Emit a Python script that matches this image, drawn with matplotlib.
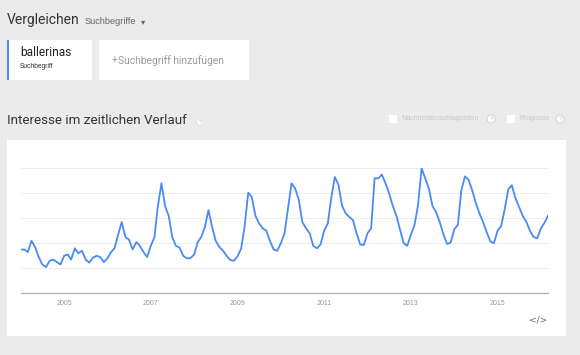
import matplotlib
matplotlib.use("Agg")
import matplotlib.pyplot as plt
from matplotlib.patches import Rectangle, Ellipse
import pandas as pd

# Data: monthly search interest for "ballerinas", 2004-01 .. 2016-03
values_2004 = [35, 35, 33, 42, 37, 29, 23, 21, 26, 27, 25, 23]
values_2005 = [30, 31, 27, 36, 32, 34, 27, 24.5, 28.5, 30, 29, 25]
values_2006 = [28, 33, 36, 47, 57, 45, 43, 35, 41, 38, 33, 29]
values_2007 = [38, 45, 69, 88, 70, 62, 45, 38, 36.5, 30, 28, 28]
values_2008 = [31, 41, 45, 53, 66.6, 53, 42, 37, 34, 30, 26.6, 26]
values_2009 = [29.5, 36, 53, 80.5, 77, 62, 56, 52, 50, 42, 35, 34]
values_2010 = [40, 48, 67, 88, 84, 75, 57, 52, 48, 38, 36, 39]
values_2011 = [50, 56, 76, 93, 87, 70, 64, 61, 58.5, 48, 39, 38.6]
values_2012 = [48, 52, 92, 92, 95, 88, 80, 70, 62, 51, 40, 38]
values_2013 = [47, 55, 70, 100, 92, 84, 70, 65, 57, 47.5, 39.5, 40.5]
values_2014 = [51, 55, 82, 93.5, 91, 82.5, 72.5, 64, 57, 49, 41.5, 40]
values_2015 = [50, 54, 66.6, 83, 86.5, 76, 69, 62, 57, 50, 45, 44]
values_2016 = [52, 56.5, 62]

values = (values_2004 + values_2005 + values_2006 + values_2007 + values_2008
          + values_2009 + values_2010 + values_2011 + values_2012 + values_2013
          + values_2014 + values_2015 + values_2016)
start_month = "2004-01-01"
tick_years = [2005, 2007, 2009, 2011, 2013, 2015]
tick_labels = ["2005", "2007", "2009", "2011", "2013", "2015"]
grid_values = [20, 40, 60, 80, 100]

W, H = 580, 355
BG = "#ebebeb"
BLUE = "#4a8af4"

fig = plt.figure(figsize=(W / 100, H / 100), dpi=100)
fig.patch.set_facecolor(BG)

def fx(x):
    return x / W

def fy(y):
    return 1 - y / H

def rect(x0, y0, x1, y1, color, z=0, ec="none", lw=0):
    fig.patches.append(Rectangle((fx(x0), fy(y1)), fx(x1) - fx(x0), fy(y0) - fy(y1),
                                 transform=fig.transFigure, facecolor=color,
                                 edgecolor=ec, linewidth=lw, zorder=z))

def circle(cx, cy, r, fc, ec, lw=0.6, z=3):
    fig.patches.append(Ellipse((fx(cx), fy(cy)), 2 * r / W, 2 * r / H,
                               transform=fig.transFigure, facecolor=fc,
                               edgecolor=ec, linewidth=lw, zorder=z))

def text(x, y, s, size, color, family="Roboto", ha="left", va="center", weight="normal"):
    fig.text(fx(x), fy(y), s, fontsize=size, color=color, family=family,
             ha=ha, va=va, weight=weight, zorder=4)

# Header
text(7, 20, "Vergleichen", 10, "#333333")
text(85, 21, "Suchbegriffe", 6.6, "#666666", family="Liberation Sans")
text(141, 21.5, "▾", 6, "#666666", family="DejaVu Sans")

# Term boxes
rect(7, 40, 92, 80, "white", z=1)
rect(7, 40, 9, 80, "#4a8af4", z=2)
text(20, 52, "ballerinas", 8.6, "#222222")
text(20, 67, "Suchbegriff", 4.8, "#333333", family="Liberation Sans")
rect(99, 40, 249, 80, "white", z=1)
text(112, 61, "+", 7.4, "#9a9a9a")
text(118, 61, "Suchbegriff hinzufügen", 7.4, "#9a9a9a")

# Section title
text(7, 121, "Interesse im zeitlichen Verlauf", 9.6, "#333333")
circle(200, 122, 3.3, "white", "#dcdcdc", lw=0.5)
text(200, 122.2, "?", 3.6, "#b8b8b8", ha="center", family="Liberation Sans")

# Options
rect(389, 115, 397, 123, "white", z=1)
text(401, 119, "Nachrichtenschlagzeilen", 5.1, "#c8c8c8", family="Liberation Sans")
rect(507, 115, 515, 123, "white", z=1)
text(519, 119, "Prognose", 5.1, "#c8c8c8", family="Liberation Sans")
for cx in (491, 560):
    circle(cx, 119, 4.0, "white", "#cccccc", lw=0.6)
    text(cx, 119.3, "?", 4.4, "#bdbdbd", ha="center", family="Liberation Sans")

# Chart card
rect(7, 140, 566, 336, "white", z=0)
text(538, 320, "</>", 6.5, "#666666", ha="center", family="DejaVu Sans")

# Plot axes
y_top, y_bot = 168.3, 293.3
x_left, x_right = 20.7, 548.0
ax = fig.add_axes([fx(x_left), fy(y_bot), fx(x_right) - fx(x_left), fy(y_top) - fy(y_bot)])
ax.set_zorder(5)
ax.set_facecolor("none")
dates = pd.date_range(start_month, periods=len(values), freq="MS")
ax.plot(dates, values, color=BLUE, linewidth=1.3, solid_joinstyle="round", zorder=3)
ax.set_xlim(dates[0], dates[-1])
ax.set_ylim(0, 100)
for g in grid_values:
    ax.axhline(g, color="#ececec", linewidth=0.7, zorder=1)
for s in ("top", "right", "left"):
    ax.spines[s].set_visible(False)
ax.spines["bottom"].set_color("#b3b3b3")
ax.spines["bottom"].set_linewidth(1.0)
ax.set_yticks([])
ax.set_xticks([pd.Timestamp(f"{y}-01-01") for y in tick_years])
ax.set_xticklabels(tick_labels, fontsize=5, color="#999999", family="Liberation Sans")
ax.tick_params(axis="x", length=0, pad=4.5)

fig.savefig("out.png", dpi=100, facecolor=BG)
